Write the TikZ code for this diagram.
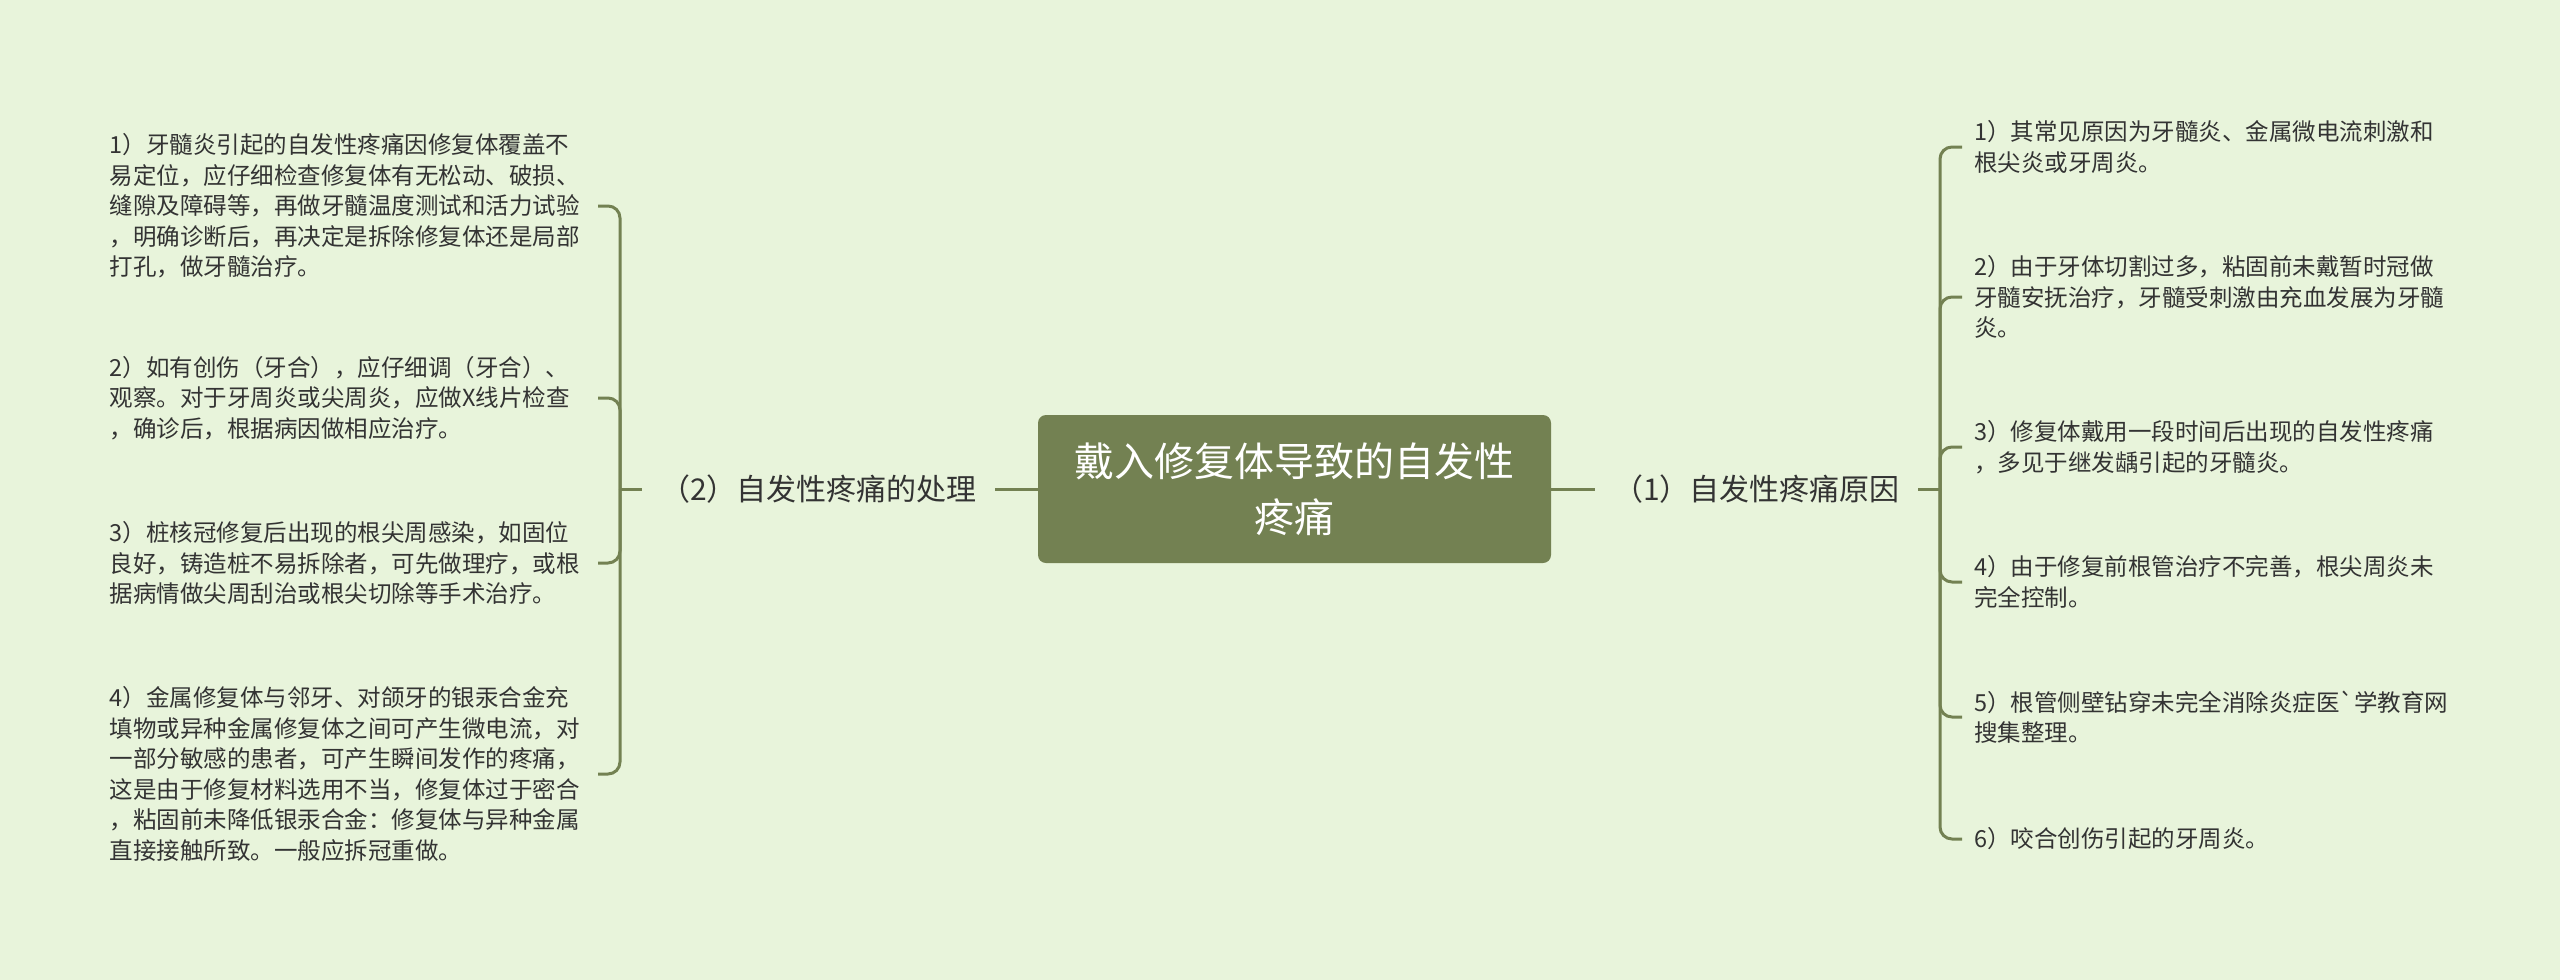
\documentclass[tikz,border=0pt]{standalone}
\usepackage{fontspec}
\newfontfamily\cjk{Noto Sans CJK SC}[Ligatures=TeXOff]
\definecolor{bg}{RGB}{232,244,219}
\definecolor{olive}{RGB}{115,129,82}
\definecolor{txt}{RGB}{51,51,51}
\tikzset{
  conn/.style={draw=olive, line width=3pt},
  bracket/.style={conn, rounded corners=12pt},
  rootbox/.style={fill=olive, rounded corners=8pt, minimum width=513pt, minimum height=148pt,
    text=white, align=center, font=\cjk\fontsize{40}{56}\selectfont},
  branch/.style={text=txt, inner xsep=18pt, font=\cjk\fontsize{30}{36}\selectfont},
  leaf/.style={text=txt, align=left, text width=476pt, inner xsep=12pt, inner ysep=4pt,
    font=\cjk\fontsize{23.5}{30.5}\selectfont},
  leafL/.style={leaf, anchor=east},
  leafR/.style={leaf, anchor=west}
}
\begin{document}
\begin{tikzpicture}[x=1pt,y=-1pt]
\fill[bg] (0,0) rectangle (2560,980);
\useasboundingbox (0,0) rectangle (2560,980);

\node[rootbox] (root) at (1294.5,489) {戴入修复体导致的自发性\\疼痛};

\node[branch] (b1) at (1756.5,489) {（1）自发性疼痛原因};
\node[branch] (b2) at (818.5,489) {（2）自发性疼痛的处理};

\coordinate (rj) at (1940,489);
\coordinate (lj) at (620,489);

% right leaves
\node[leafR] (r1) at (1962,147) {1）其常见原因为牙髓炎、金属微电流刺激和\\根尖炎或牙周炎。};
\node[leafR] (r2) at (1962,297) {2）由于牙体切割过多，粘固前未戴暂时冠做\\牙髓安抚治疗，牙髓受刺激由充血发展为牙髓\\炎。};
\node[leafR] (r3) at (1962,447) {3）修复体戴用一段时间后出现的自发性疼痛\\，多见于继发龋引起的牙髓炎。};
\node[leafR] (r4) at (1962,582) {4）由于修复前根管治疗不完善，根尖周炎未\\完全控制。};
\node[leafR] (r5) at (1962,717) {5）根管侧壁钻穿未完全消除炎症医`学教育网\\搜集整理。};
\node[leafR] (r6) at (1962,839) {6）咬合创伤引起的牙周炎。};

% left leaves
\node[leafL] (l1) at (598,206) {1）牙髓炎引起的自发性疼痛因修复体覆盖不\\易定位，应仔细检查修复体有无松动、破损、\\缝隙及障碍等，再做牙髓温度测试和活力试验\\，明确诊断后，再决定是拆除修复体还是局部\\打孔，做牙髓治疗。};
\node[leafL] (l2) at (598,398) {2）如有创伤（牙合），应仔细调（牙合）、\\观察。对于牙周炎或尖周炎，应做X线片检查\\，确诊后，根据病因做相应治疗。};
\node[leafL] (l3) at (598,563) {3）桩核冠修复后出现的根尖周感染，如固位\\良好，铸造桩不易拆除者，可先做理疗，或根\\据病情做尖周刮治或根尖切除等手术治疗。};
\node[leafL] (l4) at (598,774) {4）金属修复体与邻牙、对颌牙的银汞合金充\\填物或异种金属修复体之间可产生微电流，对\\一部分敏感的患者，可产生瞬间发作的疼痛，\\这是由于修复材料选用不当，修复体过于密合\\，粘固前未降低银汞合金：修复体与异种金属\\直接接触所致。一般应拆冠重做。};

% connectors
\draw[conn] (root.east) -- (b1.west);
\draw[conn] (root.west) -- (b2.east);
\draw[conn] (b1.east) -- (rj);
\draw[conn] (b2.west) -- (lj);
\foreach \n in {r1,r2,r3,r4,r5,r6} \draw[bracket] (rj) |- (\n.west);
\foreach \n in {l1,l2,l3,l4} \draw[bracket] (lj) |- (\n.east);
\end{tikzpicture}
\end{document}
